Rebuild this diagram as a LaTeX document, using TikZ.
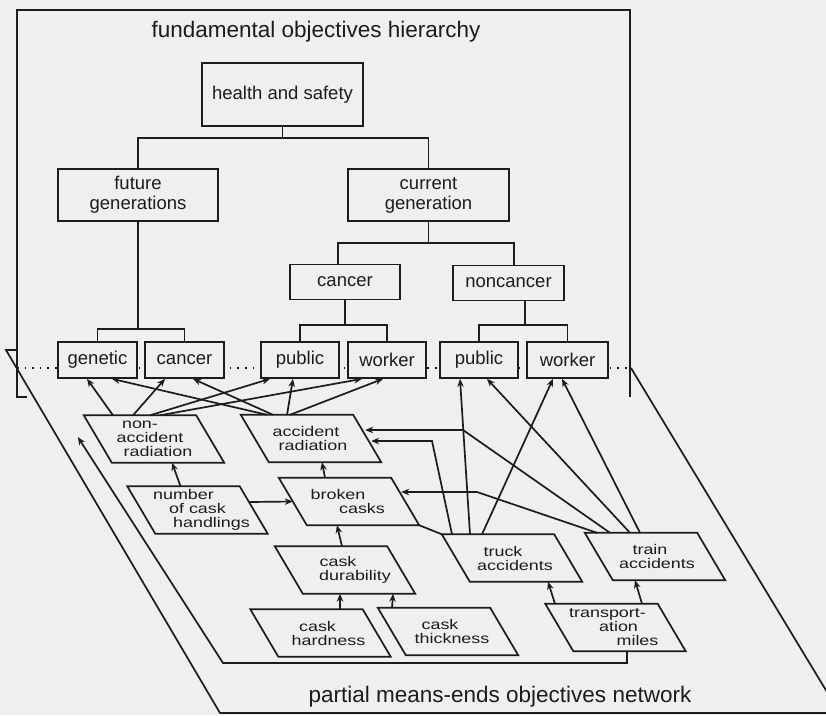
\documentclass[tikz,border=0pt]{standalone}
\usepackage{fontspec}
\setmainfont{Liberation Sans}
\newfontfamily\netfont[FakeStretch=1.28]{Liberation Sans}
\usetikzlibrary{arrows.meta}
\definecolor{paper}{RGB}{239,239,239}
\definecolor{ink}{RGB}{28,28,28}
% one text line whose centre is moved sideways by half of #1
\newcommand\mvl[2]{\makebox[0pt]{\hspace*{#1}#2}}

\begin{document}
\begin{tikzpicture}[x=1pt,y=1pt,
  edge/.style={draw=ink, line width=1.7pt},
  arr/.style={edge, -{Stealth[length=8pt,width=6.5pt]}},
  ubox/.style={draw=ink, fill=paper, line width=1.7pt, inner sep=0pt, align=center, text=ink,
    font={\fontsize{18.5pt}{20pt}\selectfont}},
  lbox/.style={minimum width=112pt, minimum height=47pt, inner sep=0pt, align=center, text=ink,
    font={\netfont\fontsize{14pt}{14pt}\selectfont}},
  heading/.style={text=ink, font={\fontsize{22.5pt}{24pt}\selectfont}}]

\fill[paper] (0,0) rectangle (826,-715);
\useasboundingbox (0,0) rectangle (826,-715);
\clip (0,0) rectangle (826,-715);

% line where the two planes meet
\draw[ink, line width=1.6pt, dash pattern=on 1.6pt off 6pt] (17,-368) -- (631,-368);

% ---------------- fundamental objectives hierarchy (upright plane)
\draw[edge] (27,-397) -- (17,-397) -- (17,-10) -- (630,-10) -- (630,-397);
\node[heading] (top) at (316,-32) {fundamental objectives hierarchy};

\node[ubox, minimum width=161pt, minimum height=63pt] (hs)  at (282.5,-94.5) {health and safety};
\node[ubox, minimum width=160pt, minimum height=52pt] (fg)  at (138,-195)   {future\\generations};
\node[ubox, minimum width=161pt, minimum height=52pt] (cg)  at (428.5,-195) {current\\generation};
\node[ubox, minimum width=110pt, minimum height=35pt] (ca)  at (345,-282)   {cancer};
\node[ubox, minimum width=111pt, minimum height=35pt] (nc)  at (508.5,-283) {noncancer};
\node[ubox, minimum width=79pt,  minimum height=36pt] (ge)  at (97.5,-360)  {genetic};
\node[ubox, minimum width=79pt,  minimum height=36pt] (cf)  at (184.5,-360) {cancer};
\node[ubox, minimum width=78pt,  minimum height=36pt] (pu1) at (300,-360)   {public};
\node[ubox, minimum width=78pt,  minimum height=36pt] (wo1) at (387,-360)   {worker};
\node[ubox, minimum width=78pt,  minimum height=36pt] (pu2) at (479,-360)   {public};
\node[ubox, minimum width=81pt,  minimum height=36pt] (wo2) at (567.5,-360) {worker};

% tree links
\draw[edge] (hs.south) -- ++(0,-11) coordinate (hsj);
\draw[edge] (fg.north) |- (hsj) -| (cg.north);
\draw[edge] (fg.south) -- ++(0,-107) coordinate (fgj);
\draw[edge] (ge.north) |- (fgj) -| (cf.north);
\draw[edge] (cg.south) -- ++(0,-21) coordinate (cgj);
\draw[edge] ([xshift=-7pt]ca.north) |- (cgj) -| ([xshift=5.5pt]nc.north);
\draw[edge] (ca.south) -- ++(0,-24.5) coordinate (caj);
\draw[edge] (pu1.north) |- (caj) -| (wo1.north);
\draw[edge] ([xshift=16.5pt]nc.south) -- ++(0,-23.5) coordinate (ncj);
\draw[edge] (pu2.north) |- (ncj) -| (wo2.north);

% ---------------- partial means-ends objectives network (lying plane)
\draw[edge] (17,-350) -- (6,-350) -- (220,-713) -- (850,-713);
\draw[edge] (631,-368) -- (850,-730);
\node[heading] (bottom) at (500,-697) {partial means-ends objectives network};

\node[lbox] (nar) at (154,-439)   {\mvl{-28pt}{non-}\\\mvl{-8pt}{accident}\\\mvl{8pt}{radiation}};
\node[lbox] (ar)  at (311,-438.5) {\mvl{-10pt}{accident}\\\mvl{4pt}{radiation}};
\node[lbox] (nch) at (197.5,-510) {\mvl{-28pt}{number}\\\mvl{0pt}{of cask}\\\mvl{28pt}{handlings}};
\node[lbox] (bc)  at (349,-501.5) {\mvl{-22pt}{broken}\\\mvl{26pt}{casks}};
\node[lbox] (cd)  at (345,-570)   {\mvl{-14pt}{cask}\\\mvl{20pt}{durability}};
\node[lbox] (ch)  at (320.5,-633) {\mvl{-6pt}{cask}\\\mvl{16pt}{hardness}};
\node[lbox] (ct)  at (448,-631.5) {\mvl{-16pt}{cask}\\\mvl{8pt}{thickness}};
\node[lbox] (ta)  at (512,-558)   {\mvl{-18pt}{truck}\\\mvl{6pt}{accidents}};
\node[lbox] (tra) at (655,-556.5) {\mvl{-10pt}{train}\\\mvl{4pt}{accidents}};
\node[lbox] (tm)  at (615.5,-627.5) {\mvl{-16pt}{transport-}\\\mvl{6pt}{ation}\\\mvl{44pt}{miles}};

% slanted outlines of the network boxes
\foreach \n in {nar,ar,nch,bc,cd,ch,ct,ta,tra,tm}
  \draw[edge] ([xshift=-14pt]\n.north west) -- ([xshift=-14pt]\n.north east)
    -- ([xshift=14pt]\n.south east) -- ([xshift=14pt]\n.south west) -- cycle;

% links from the network up to the hierarchy
\draw[arr] ([xshift=-41pt]nar.north) -- ([xshift=-10.5pt]ge.south);
\draw[arr] ([xshift=-21pt]nar.north) -- ([xshift=-19.5pt]cf.south);
\draw[arr] ([xshift=-4pt]nar.north)  -- ([xshift=-30pt]pu1.south);
\draw[arr] ([xshift=6pt]nar.north)   -- ([xshift=-25pt]wo1.south);
\draw[arr] ([xshift=-44pt]ar.north)  -- ([xshift=14.5pt]ge.south);
\draw[arr] ([xshift=-38pt]ar.north)  -- ([xshift=8.5pt]cf.south);
\draw[arr] ([xshift=-24pt]ar.north)  -- ([xshift=-7pt]pu1.south);
\draw[arr] ([xshift=-21pt]ar.north)  -- ([xshift=-4pt]wo1.south);
\draw[arr] ([xshift=-42pt]ta.north)  -- ([xshift=-19pt]pu2.south);
\draw[arr] ([xshift=-30pt]ta.north)  -- ([xshift=-14.5pt]wo2.south);
\draw[arr] ([xshift=-25pt]tra.north) -- ([xshift=8pt]pu2.south);
\draw[arr] ([xshift=-15pt]tra.north) -- ([xshift=-5.5pt]wo2.south);

% links inside the network
\coordinate (k1) at (432,-441);
\coordinate (k2) at (463,-430);
\coordinate (k3) at (477,-492);
\draw[arr] ([xshift=-60pt]ta.north)  -- (k1) -- ([shift={(4pt,-2.5pt)}]ar.east);
\draw[arr] ([xshift=-45pt]tra.north) -- (k2) -- ([shift={(-2pt,8.5pt)}]ar.east);
\draw[arr] ([xshift=-58pt]tra.north) -- (k3) -- ([shift={(-4pt,9.5pt)}]bc.east);
\draw[edge] ([xshift=14pt]bc.south east) -- ([xshift=-14pt]ta.north west);

\draw[arr] ([xshift=-17pt]nch.north) -- ([xshift=18pt]nar.south);
\draw[arr] ([shift={(-4pt,8pt)}]nch.east) -- (bc.west);
\draw[arr] ([xshift=-24pt]bc.north) -- ([xshift=11pt]ar.south);
\draw[arr] ([xshift=-3pt]cd.north) -- ([xshift=-12pt]bc.south);
\draw[arr] ([xshift=19.5pt]ch.north) -- ([xshift=-5pt]cd.south);
\draw[arr] ([xshift=-56pt]ct.north) -- ([xshift=48pt]cd.south);
\draw[arr] ([xshift=-60.5pt]tm.north) -- ([xshift=36pt]ta.south);
\draw[arr] ([xshift=26.5pt]tm.north) -- ([xshift=-20pt]tra.south);

\coordinate (m1) at (627,-663);
\coordinate (m2) at (223,-663);
\draw[arr] ([xshift=11.5pt]tm.south) -- (m1) -- (m2) -- ([shift={(-20pt,2pt)}]nar.west);
\end{tikzpicture}
\end{document}
